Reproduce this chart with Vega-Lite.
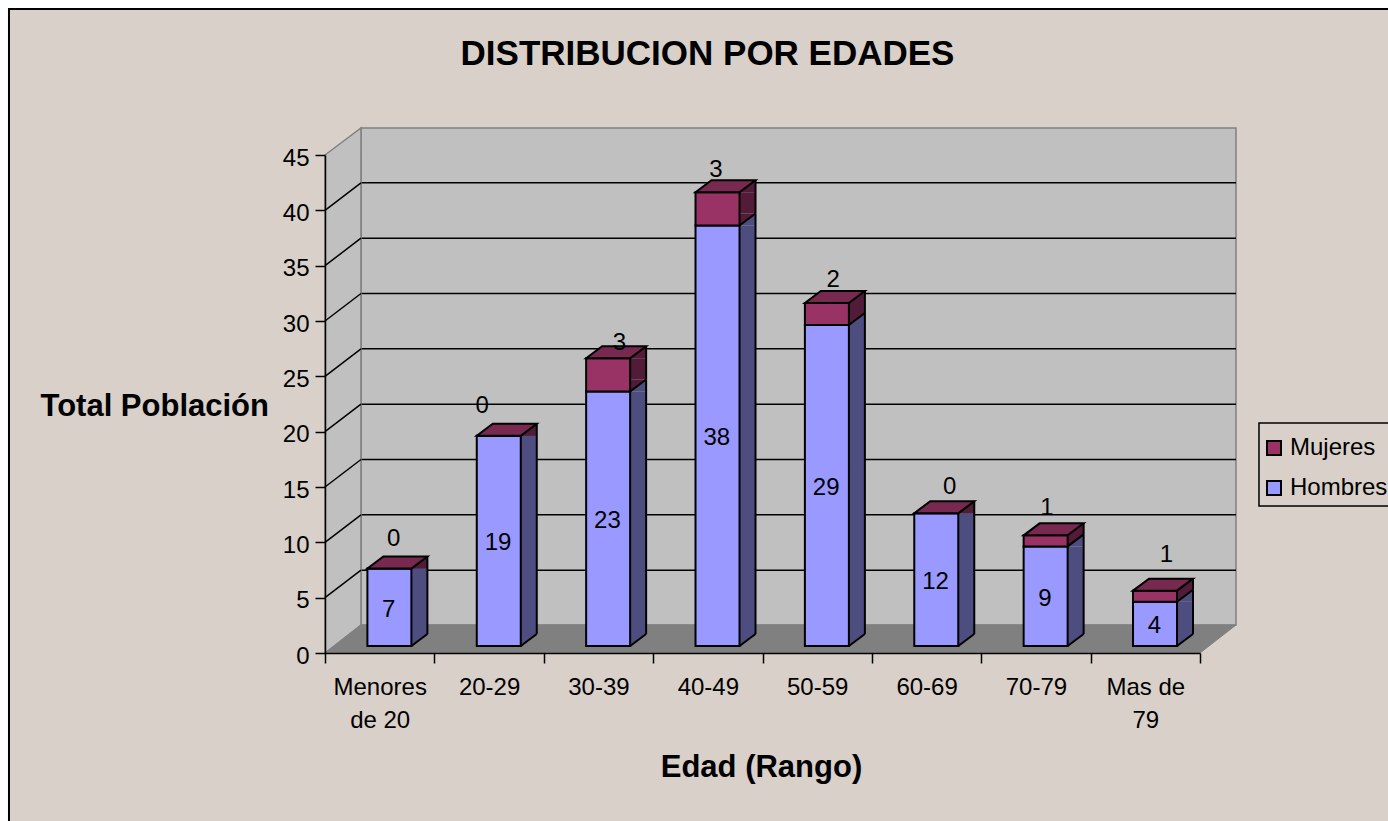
{"$schema":"https://vega.github.io/schema/vega-lite/v6.json","width":911,"height":525,"autosize":"none","padding":{"left":325,"top":128,"right":152,"bottom":168},"background":"#ffffff","config":{"font":"Liberation Sans","view":{"stroke":null},"axis":{"grid":false}},"title":{"text":"DISTRIBUCION POR EDADES","fontSize":35,"fontWeight":"bold","color":"#000000","anchor":"middle","frame":"group","dx":-73,"offset":-67},"datasets":{"marco":[{"id":1}],"niveles":[{"nivel":5},{"nivel":10},{"nivel":15},{"nivel":20},{"nivel":25},{"nivel":30},{"nivel":35},{"nivel":40}]},"data":{"values":[{"edad":"Menores de 20","serie":"Hombres","valor":7},{"edad":"Menores de 20","serie":"Mujeres","valor":0},{"edad":"20-29","serie":"Hombres","valor":19},{"edad":"20-29","serie":"Mujeres","valor":0},{"edad":"30-39","serie":"Hombres","valor":23},{"edad":"30-39","serie":"Mujeres","valor":3},{"edad":"40-49","serie":"Hombres","valor":38},{"edad":"40-49","serie":"Mujeres","valor":3},{"edad":"50-59","serie":"Hombres","valor":29},{"edad":"50-59","serie":"Mujeres","valor":2},{"edad":"60-69","serie":"Hombres","valor":12},{"edad":"60-69","serie":"Mujeres","valor":0},{"edad":"70-79","serie":"Hombres","valor":9},{"edad":"70-79","serie":"Mujeres","valor":1},{"edad":"Mas de 79","serie":"Hombres","valor":4},{"edad":"Mas de 79","serie":"Mujeres","valor":1}]},"transform":[{"stack":"valor","groupby":["edad"],"sort":[{"field":"serie","order":"ascending"}],"as":["inicio","fin"]}],"layer":[
{"data":{"name":"marco"},"mark":{"type":"point","filled":true,"opacity":1,"size":4,"xOffset":-54.7,"shape":"M-316,-644L1080,-644L1080,180L-316,180Z","fill":"#D8D0C9","stroke":"#000000","strokeWidth":2},"encoding":{"x":{"datum":"Menores de 20","type":"nominal","scale":{"type":"band","domain":["Menores de 20","20-29","30-39","40-49","50-59","60-69","70-79","Mas de 79"],"range":[0,875],"paddingInner":0,"paddingOuter":0},"axis":{"title":"Edad (Rango)","titleFontSize":31,"titleFontWeight":"bold","titleColor":"#000000","titleX":436,"titleY":114,"titleAlign":"center","titleBaseline":"middle","titleAnchor":"middle","tickBand":"extent","tickSize":10,"tickColor":"#000000","tickWidth":1.5,"domainColor":"#000000","domainWidth":1.5,"labelFontSize":24,"labelColor":"#000000","labelAngle":0,"labelPadding":12,"labelBaseline":"top","labelLineHeight":33,"labelOverlap":false,"labelLimit":300,"zindex":1,"labelExpr":"datum.label=='Menores de 20'?['Menores','de 20']:datum.label=='Mas de 79'?['Mas de','79']:datum.label"}},"y":{"datum":0,"type":"quantitative","scale":{"domain":[0,45],"range":[525,27],"nice":false,"zero":false},"axis":{"title":"Total Población","titleFontSize":31,"titleFontWeight":"bold","titleColor":"#000000","titleAngle":0,"titleX":-285,"titleY":278,"titleAlign":"left","titleBaseline":"middle","values":[0,5,10,15,20,25,30,35,40,45],"tickSize":10,"tickColor":"#000000","tickWidth":1.5,"domainColor":"#000000","domainWidth":1.5,"labelFontSize":24,"labelColor":"#000000","labelPadding":6,"labelOffset":3,"zindex":1}}}},
{"data":{"name":"marco"},"mark":{"type":"point","filled":true,"opacity":1,"size":4,"xOffset":-54.7,"shape":"M934,-230L1080,-230L1080,-147L934,-147Z","fill":"#D8D0C9","stroke":"#000000","strokeWidth":1.5},"encoding":{"x":{"datum":"Menores de 20","type":"nominal","scale":{"type":"band","domain":["Menores de 20","20-29","30-39","40-49","50-59","60-69","70-79","Mas de 79"],"range":[0,875],"paddingInner":0,"paddingOuter":0}},"y":{"datum":0,"type":"quantitative","scale":{"domain":[0,45],"range":[525,27],"nice":false,"zero":false}}}},
{"data":{"name":"marco"},"mark":{"type":"point","filled":true,"opacity":1,"size":4,"xOffset":-54.7,"shape":"M36,-28L36,-525L911,-525L911,-28Z","fill":"#C0C0C0","stroke":"#808080","strokeWidth":1.5},"encoding":{"x":{"datum":"Menores de 20","type":"nominal","scale":{"type":"band","domain":["Menores de 20","20-29","30-39","40-49","50-59","60-69","70-79","Mas de 79"],"range":[0,875],"paddingInner":0,"paddingOuter":0}},"y":{"datum":0,"type":"quantitative","scale":{"domain":[0,45],"range":[525,27],"nice":false,"zero":false}}}},
{"data":{"name":"niveles"},"mark":{"type":"rule","color":"#000000","strokeWidth":1.5,"yOffset":-27.5},"encoding":{"y":{"field":"nivel","type":"quantitative","scale":{"domain":[0,45],"range":[525,27],"nice":false,"zero":false}}}},
{"data":{"name":"marco"},"mark":{"type":"point","filled":true,"opacity":1,"size":4,"xOffset":-54.7,"shape":"M0,0L0,-498L36,-525L36,-28Z","fill":"#C0C0C0","stroke":"#808080","strokeWidth":1.5},"encoding":{"x":{"datum":"Menores de 20","type":"nominal","scale":{"type":"band","domain":["Menores de 20","20-29","30-39","40-49","50-59","60-69","70-79","Mas de 79"],"range":[0,875],"paddingInner":0,"paddingOuter":0}},"y":{"datum":0,"type":"quantitative","scale":{"domain":[0,45],"range":[525,27],"nice":false,"zero":false}}}},
{"data":{"name":"marco"},"mark":{"type":"point","filled":true,"opacity":1,"size":4,"xOffset":-54.7,"shape":"M0,0L36,-28L911,-28L875,0Z","fill":"#808080","stroke":"#808080","strokeWidth":1},"encoding":{"x":{"datum":"Menores de 20","type":"nominal","scale":{"type":"band","domain":["Menores de 20","20-29","30-39","40-49","50-59","60-69","70-79","Mas de 79"],"range":[0,875],"paddingInner":0,"paddingOuter":0}},"y":{"datum":0,"type":"quantitative","scale":{"domain":[0,45],"range":[525,27],"nice":false,"zero":false}}}},
{"data":{"name":"niveles"},"mark":{"type":"point","filled":false,"opacity":1,"size":4,"xOffset":-54.7,"shape":"M0,0L36,-27.5","fill":null,"stroke":"#000000","strokeWidth":1.5},"encoding":{"x":{"datum":"Menores de 20","type":"nominal","scale":{"type":"band","domain":["Menores de 20","20-29","30-39","40-49","50-59","60-69","70-79","Mas de 79"],"range":[0,875],"paddingInner":0,"paddingOuter":0}},"y":{"field":"nivel","type":"quantitative","scale":{"domain":[0,45],"range":[525,27],"nice":false,"zero":false}}}},
{"mark":{"type":"bar","width":16,"xOffset":39.7,"yOffset":-7,"y2Offset":-19,"stroke":null,"opacity":1},"encoding":{"x":{"field":"edad","type":"nominal","scale":{"type":"band","domain":["Menores de 20","20-29","30-39","40-49","50-59","60-69","70-79","Mas de 79"],"range":[0,875],"paddingInner":0,"paddingOuter":0}},"y":{"field":"fin","type":"quantitative","stack":null,"scale":{"domain":[0,45],"range":[525,27],"nice":false,"zero":false}},"y2":{"field":"inicio"},"fill":{"condition":{"test":"datum.serie=='Mujeres'","value":"#521B38"},"value":"#4D4D80"}}},
{"mark":{"type":"point","filled":true,"opacity":1,"size":4,"xOffset":31.7,"yOffset":-7,"shape":"M0,0L16,-12L16,0Z","strokeWidth":0},"encoding":{"x":{"field":"edad","type":"nominal","scale":{"type":"band","domain":["Menores de 20","20-29","30-39","40-49","50-59","60-69","70-79","Mas de 79"],"range":[0,875],"paddingInner":0,"paddingOuter":0}},"y":{"field":"fin","type":"quantitative","scale":{"domain":[0,45],"range":[525,27],"nice":false,"zero":false}},"fill":{"condition":{"test":"datum.serie=='Mujeres'","value":"#521B38"},"value":"#4D4D80"}}},
{"mark":{"type":"point","filled":true,"opacity":1,"size":4,"xOffset":31.7,"yOffset":-7,"shape":"M0,0L16,-12L0,-12Z","strokeWidth":0},"encoding":{"x":{"field":"edad","type":"nominal","scale":{"type":"band","domain":["Menores de 20","20-29","30-39","40-49","50-59","60-69","70-79","Mas de 79"],"range":[0,875],"paddingInner":0,"paddingOuter":0}},"y":{"field":"inicio","type":"quantitative","scale":{"domain":[0,45],"range":[525,27],"nice":false,"zero":false}},"fill":{"condition":{"test":"datum.serie=='Mujeres'","value":"#521B38"},"value":"#4D4D80"}}},
{"mark":{"type":"rule","xOffset":47.7,"yOffset":-19,"y2Offset":-19,"color":"#000000","strokeWidth":2},"encoding":{"x":{"field":"edad","type":"nominal","scale":{"type":"band","domain":["Menores de 20","20-29","30-39","40-49","50-59","60-69","70-79","Mas de 79"],"range":[0,875],"paddingInner":0,"paddingOuter":0}},"y":{"field":"fin","type":"quantitative","stack":null,"scale":{"domain":[0,45],"range":[525,27],"nice":false,"zero":false}},"y2":{"field":"inicio"}}},
{"mark":{"type":"point","filled":false,"opacity":1,"size":4,"xOffset":31.7,"yOffset":-7,"shape":"M0,0L16,-12","fill":null,"stroke":"#000000","strokeWidth":2},"encoding":{"x":{"field":"edad","type":"nominal","scale":{"type":"band","domain":["Menores de 20","20-29","30-39","40-49","50-59","60-69","70-79","Mas de 79"],"range":[0,875],"paddingInner":0,"paddingOuter":0}},"y":{"field":"inicio","type":"quantitative","scale":{"domain":[0,45],"range":[525,27],"nice":false,"zero":false}}}},
{"mark":{"type":"bar","width":44,"xOffset":9.7,"yOffset":-7,"y2Offset":-7,"stroke":"#000000","strokeWidth":2,"opacity":1},"encoding":{"x":{"field":"edad","type":"nominal","scale":{"type":"band","domain":["Menores de 20","20-29","30-39","40-49","50-59","60-69","70-79","Mas de 79"],"range":[0,875],"paddingInner":0,"paddingOuter":0}},"y":{"field":"fin","type":"quantitative","stack":null,"scale":{"domain":[0,45],"range":[525,27],"nice":false,"zero":false}},"y2":{"field":"inicio"},"fill":{"field":"serie","type":"nominal","scale":{"domain":["Mujeres","Hombres"],"range":["#993366","#9999FF"]},"legend":{"title":null,"orient":"none","legendX":937,"legendY":308,"padding":0,"strokeColor":null,"fillColor":null,"symbolType":"square","symbolSize":196,"symbolStrokeColor":"#000000","symbolStrokeWidth":2,"labelFontSize":24,"labelColor":"#000000","labelLimit":300,"rowPadding":16,"labelOffset":4}}}},
{"transform":[{"filter":"datum.serie=='Mujeres'"}],"mark":{"type":"point","filled":true,"opacity":1,"size":4,"xOffset":9.7,"yOffset":-7,"shape":"M-22,0L-6,-12L38,-12L22,0Z","fill":"#77294F","stroke":"#000000","strokeWidth":2},"encoding":{"x":{"field":"edad","type":"nominal","scale":{"type":"band","domain":["Menores de 20","20-29","30-39","40-49","50-59","60-69","70-79","Mas de 79"],"range":[0,875],"paddingInner":0,"paddingOuter":0}},"y":{"field":"fin","type":"quantitative","scale":{"domain":[0,45],"range":[525,27],"nice":false,"zero":false}}}},
{"transform":[{"filter":"datum.serie=='Hombres'"},{"calculate":"(datum.inicio+datum.fin)/2","as":"medio"}],"mark":{"type":"text","fontSize":24,"color":"#000000","baseline":"middle","xOffset":9,"yOffset":-4.5},"encoding":{"x":{"field":"edad","type":"nominal","scale":{"type":"band","domain":["Menores de 20","20-29","30-39","40-49","50-59","60-69","70-79","Mas de 79"],"range":[0,875],"paddingInner":0,"paddingOuter":0}},"y":{"field":"medio","type":"quantitative","scale":{"domain":[0,45],"range":[525,27],"nice":false,"zero":false}},"text":{"field":"valor","type":"quantitative"}}},
{"transform":[{"filter":"datum.serie=='Mujeres'"}],"mark":{"type":"text","fontSize":24,"color":"#000000","baseline":"middle","xOffset":{"expr":"{'Menores de 20':14,'20-29':-7,'30-39':21,'40-49':8,'50-59':16,'60-69':23,'70-79':11,'Mas de 79':21}[datum.edad]"},"yOffset":{"expr":"{'Menores de 20':-37,'20-29':-37,'30-39':-22,'40-49':-29,'50-59':-30,'60-69':-33,'70-79':-34,'Mas de 79':-43}[datum.edad]"}},"encoding":{"x":{"field":"edad","type":"nominal","scale":{"type":"band","domain":["Menores de 20","20-29","30-39","40-49","50-59","60-69","70-79","Mas de 79"],"range":[0,875],"paddingInner":0,"paddingOuter":0}},"y":{"field":"fin","type":"quantitative","scale":{"domain":[0,45],"range":[525,27],"nice":false,"zero":false}},"text":{"field":"valor","type":"quantitative"}}}
]}
